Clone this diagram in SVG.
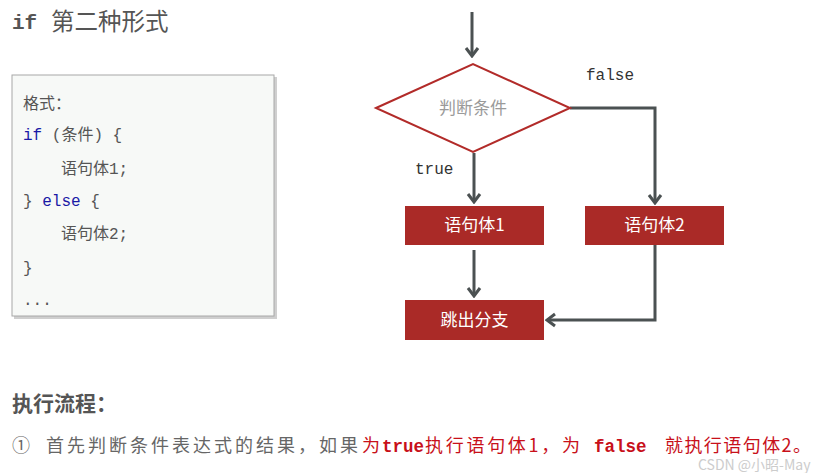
<svg xmlns="http://www.w3.org/2000/svg" width="823" height="473" viewBox="0 0 823 473">
<style>
  .cjk { font-family: "Noto Sans CJK SC", "Liberation Sans", sans-serif; }
  .mono { font-family: "Liberation Mono", "DejaVu Sans Mono", "Noto Sans CJK SC", monospace; }
  .code { font-family: "Liberation Mono", "Noto Sans CJK SC", monospace; font-size: 16px; fill: #555; }
  .kw { fill: #1a1aa6; }
  .conn { fill: none; stroke: #4b5152; stroke-width: 3; }
  .box { fill: #aa2a27; }
  .boxtxt { font-family: "Noto Sans CJK SC", "Liberation Sans", sans-serif; font-size: 17px; fill: #fff; text-anchor: middle; }
  .red { fill: #c8101a; }
</style>
<defs>
  <marker id="arr" viewBox="-12 -8 14 16" markerWidth="14" markerHeight="16" refX="0" refY="0" markerUnits="userSpaceOnUse" orient="auto">
    <path d="M-8,-6 L0,0 L-8,6" fill="none" stroke="#4b5152" stroke-width="3"/>
  </marker>
</defs>
<rect width="823" height="473" fill="#fff"/>

<g id="title">
  <text x="12" y="29" class="mono" font-size="21" font-weight="bold" fill="#555">if</text>
  <text x="51" y="30" class="cjk" font-size="23.5" fill="#555">第二种形式</text>
</g>

<g id="codebox">
  <rect x="14" y="77" width="263" height="242" fill="#cfcfcf"/>
  <rect x="12" y="75" width="262" height="241" fill="#f7f9f7" stroke="#a8a8a8" stroke-width="1"/>
  <text x="23" y="109" class="code" fill="#777">格式：</text>
  <text x="23" y="140" class="code" xml:space="preserve"><tspan class="kw">if</tspan> (条件) {</text>
  <text x="61" y="174" class="code">语句体1;</text>
  <text x="23" y="206" class="code" xml:space="preserve">} <tspan class="kw">else</tspan> {</text>
  <text x="61" y="239" class="code">语句体2;</text>
  <text x="23" y="273" class="code">}</text>
  <text x="23" y="305" class="code">...</text>
</g>

<g id="connectors">
  <line x1="472" y1="12" x2="472" y2="56" class="conn" marker-end="url(#arr)"/>
  <line x1="474" y1="153" x2="474" y2="202" class="conn" marker-end="url(#arr)"/>
  <polyline points="570,108 655,108 655,203" class="conn" marker-end="url(#arr)"/>
  <line x1="474" y1="250" x2="474" y2="296" class="conn" marker-end="url(#arr)"/>
  <polyline points="655,245 655,320 547,320" class="conn" marker-end="url(#arr)"/>
  <text x="415" y="174" class="mono" font-size="16" fill="#333">true</text>
  <text x="586" y="80" class="mono" font-size="16" fill="#333">false</text>
</g>

<g id="cond">
  <polygon points="376,108 473,64 570,108 473,152" fill="#fff" stroke="#b22b29" stroke-width="2"/>
  <text x="473" y="114" class="cjk" font-size="17" fill="#9a9a9a" text-anchor="middle">判断条件</text>
</g>

<g id="body1">
  <rect x="405" y="206" width="139" height="39" class="box"/>
  <text x="474.5" y="231" class="boxtxt">语句体1</text>
</g>

<g id="body2">
  <rect x="585" y="206" width="139" height="39" class="box"/>
  <text x="654.5" y="231" class="boxtxt">语句体2</text>
</g>

<g id="exit">
  <rect x="405" y="300" width="139" height="40" class="box"/>
  <text x="474.5" y="326" class="boxtxt">跳出分支</text>
</g>

<g id="flow">
  <text x="12" y="411" class="cjk" font-size="21" font-weight="bold" fill="#555">执行流程：</text>
  <text x="12" y="452" class="cjk" font-size="18" fill="#666">①</text>
  <text x="46" y="452" class="cjk" font-size="18" fill="#666" textLength="312" lengthAdjust="spacing">首先判断条件表达式的结果，如果</text>
  <text x="362" y="452" class="cjk red" font-size="18">为</text>
  <text x="382" y="452" class="mono red" font-size="17.5" font-weight="bold">true</text>
  <text x="425" y="452" class="cjk red" font-size="18" textLength="155" lengthAdjust="spacing">执行语句体1，为</text>
  <text x="594" y="452" class="mono red" font-size="17.5" font-weight="bold">false</text>
  <text x="665" y="452" class="cjk red" font-size="18" textLength="146" lengthAdjust="spacing">就执行语句体2。</text>
  <text x="698" y="470" class="cjk" font-size="14" fill="#c4c4c4" opacity="0.85">CSDN @小昭-May</text>
</g>
</svg>
